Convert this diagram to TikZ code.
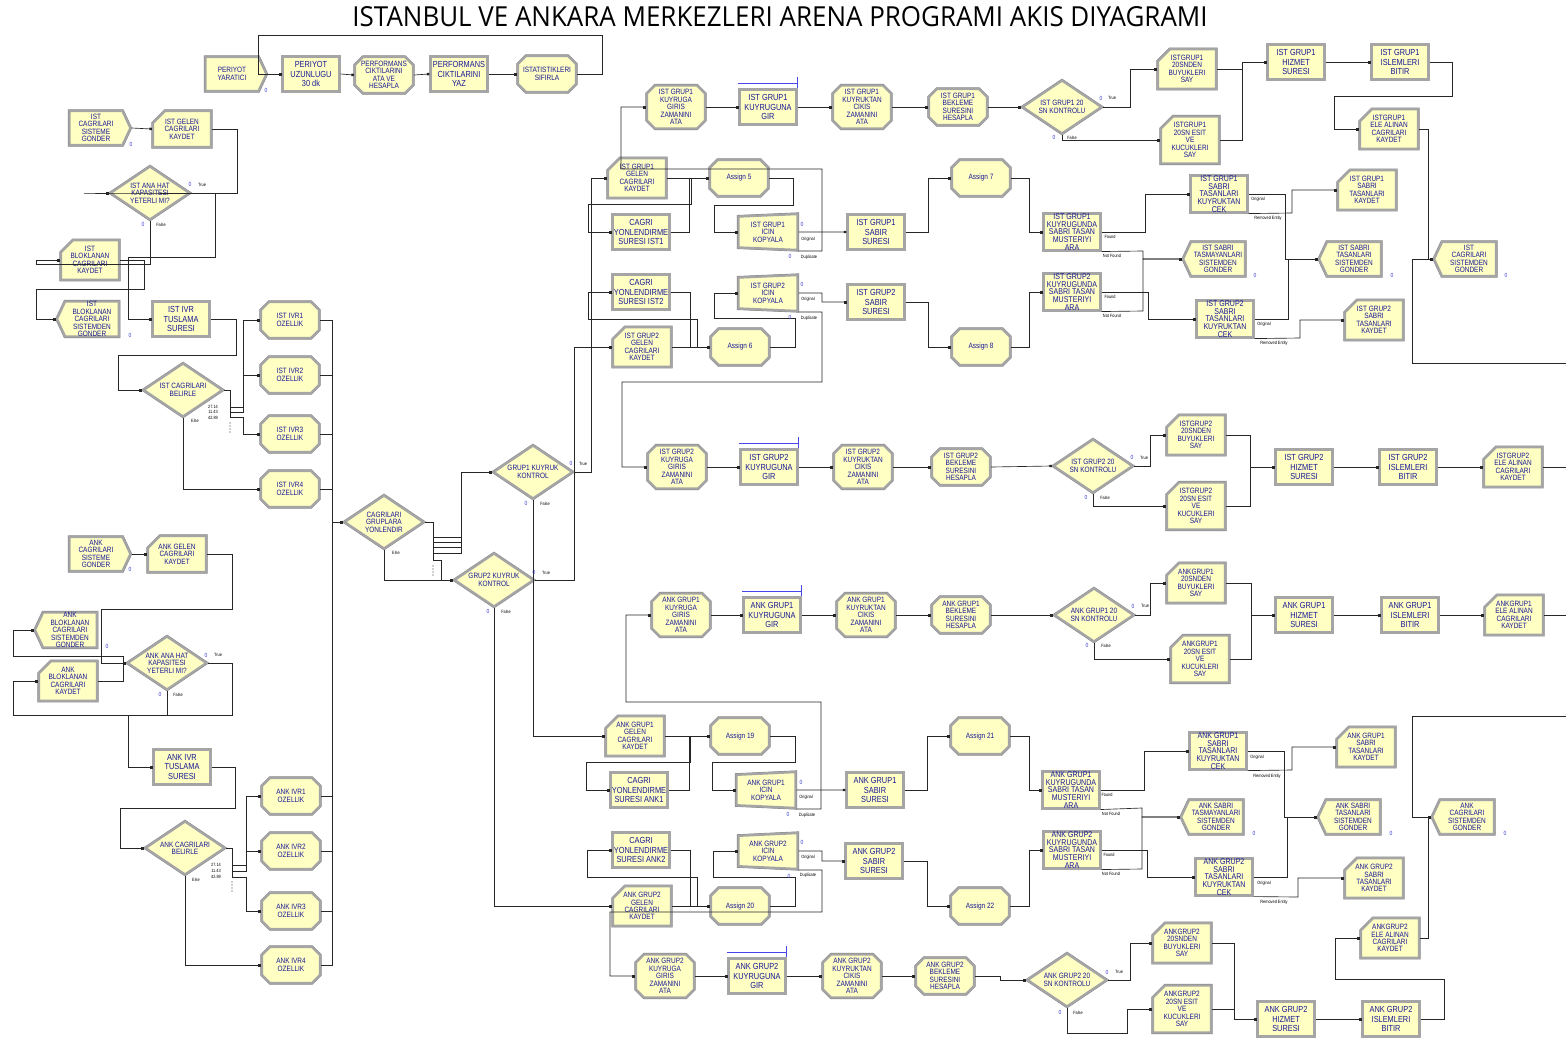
\documentclass[tikz,border=0pt]{standalone}
\usepackage{fontspec}
\usepackage{graphicx}
\usetikzlibrary{shapes.geometric,shapes.misc,shapes.symbols,arrows.meta}
\newfontfamily\arenafont[FakeStretch=0.84]{Liberation Sans}
\newfontfamily\titlefont{Open Sans}
\definecolor{arenafill}{RGB}{255,255,196}
\definecolor{arenaedge}{RGB}{165,165,165}
\definecolor{arenatext}{RGB}{25,25,150}
\definecolor{cntblue}{RGB}{60,60,210}
\definecolor{qblue}{RGB}{70,70,235}
\begin{document}
\begin{tikzpicture}[
   x=1pt,y=-1pt,
   box/.style={fill=arenafill,draw=arenaedge,line width=2.4pt,
     preaction={draw=black!50,line width=3.1pt},text=arenatext,align=center,inner sep=1pt},
   txs/.style={font=\arenafont\fontsize{7.7}{7.4}\selectfont},
   txb/.style={font=\arenafont\fontsize{8.8}{9.2}\selectfont},
   txm/.style={font=\arenafont\fontsize{8.4}{7.7}\selectfont},
   proc/.style={box,rectangle,minimum width=57pt,minimum height=35pt,txb},
   srch/.style={box,rectangle,minimum width=57pt,minimum height=35pt,inner ysep=0pt,txm},
   asgn/.style={box,chamfered rectangle,chamfered rectangle xsep=4pt,chamfered rectangle ysep=4pt,
     minimum width=58pt,minimum height=36pt,inner ysep=0pt,txs},
   rec/.style={box,chamfered rectangle,chamfered rectangle corners=north west,
     chamfered rectangle xsep=6pt,chamfered rectangle ysep=6pt,minimum width=58pt,minimum height=36pt,inner ysep=0pt,txs},
   crt/.style={box,signal,signal to=east,signal pointer angle=130,minimum width=61pt,minimum height=34pt,inner ysep=0pt,txs},
   disp/.style={box,signal,signal to=west,signal pointer angle=130,minimum width=62pt,minimum height=34pt,inner ysep=0pt,txs},
   dec/.style={box,diamond,aspect=1.5,minimum width=80pt,minimum height=54pt,inner sep=0pt,txs},
   sepr/.style={box,trapezium,trapezium left angle=86,trapezium right angle=86,shape border rotate=90,
     trapezium stretches body,minimum width=36pt,minimum height=59pt,inner ysep=0pt,txs},
   wire/.style={draw=black!85,line width=0.65pt},
   con/.style={wire,-{Square[length=2.4pt,width=2.4pt]}},
   qline/.style={draw=qblue,line width=0.8pt},
   cnt/.style={font=\arenafont\fontsize{6}{6}\selectfont,text=cntblue,inner sep=0pt},
   lab/.style={font=\arenafont\fontsize{4.6}{5}\selectfont,inner sep=0pt}
 ]
  \fill[white] (0,0) rectangle (1566,1039);
  \useasboundingbox (0,0) rectangle (1566,1039);

  \node (title) at (780,17) {\resizebox{855pt}{20pt}{\titlefont ISTANBUL VE ANKARA MERKEZLERI ARENA PROGRAMI AKIS DIYAGRAMI}};

  % periyot
  \node[crt] (perYar) at (232,74) {PERIYOT\\YARATICI};
  \node[proc] (perUzun) at (311,74) {PERIYOT\\UZUNLUGU\\30 dk};
  \node[asgn] (perAta) at (384,75) {PERFORMANS\\CIKTILARINI\\ATA VE\\HESAPLA};
  \node[proc] (perYaz) at (459,74) {PERFORMANS\\CIKTILARINI\\YAZ};
  \node[asgn] (statSif) at (547,74) {ISTATISTIKLERI\\SIFIRLA};

  % istanbul giris
  \node[crt] (istGonder) at (96,128) {IST\\CAGRILARI\\SISTEME\\GONDER};
  \node[rec] (istGelen) at (182,129) {IST GELEN\\CAGRILARI\\KAYDET};
  \node[dec] (istHat) at (150,193) {IST ANA HAT\\KAPASITESI\\YETERLI MI?};
  \node[rec] (istBlokKay) at (90,260) {IST\\BLOKLANAN\\CAGRILARI\\KAYDET};
  \node[disp] (istBlokGon) at (92,319) {IST\\BLOKLANAN\\CAGRILARI\\SISTEMDEN\\GONDER};
  \node[proc] (istTus) at (181,319) {IST IVR\\TUSLAMA\\SURESI};
  \node[dec] (istBel) at (183,390) {IST CAGRILARI\\BELIRLE};
  \node[asgn] (istIvr1) at (290,320) {IST IVR1\\OZELLIK};
  \node[asgn] (istIvr2) at (290,375) {IST IVR2\\OZELLIK};
  \node[asgn] (istIvr3) at (290,434) {IST IVR3\\OZELLIK};
  \node[asgn] (istIvr4) at (290,489) {IST IVR4\\OZELLIK};

  % ankara giris
  \node[crt] (ankGonder) at (96,554) {ANK\\CAGRILARI\\SISTEME\\GONDER};
  \node[rec] (ankGelen) at (177,554) {ANK GELEN\\CAGRILARI\\KAYDET};
  \node[disp] (ankBlokGon) at (70,630) {ANK\\BLOKLANAN\\CAGRILARI\\SISTEMDEN\\GONDER};
  \node[dec] (ankHat) at (167,663) {ANK ANA HAT\\KAPASITESI\\YETERLI MI?};
  \node[rec] (ankBlokKay) at (68,681) {ANK\\BLOKLANAN\\CAGRILARI\\KAYDET};
  \node[proc] (ankTus) at (182,767) {ANK IVR\\TUSLAMA\\SURESI};
  \node[dec] (ankBel) at (185,848) {ANK CAGRILARI\\BELIRLE};
  \node[asgn] (ankIvr1) at (291,796) {ANK IVR1\\OZELLIK};
  \node[asgn] (ankIvr2) at (291,851) {ANK IVR2\\OZELLIK};
  \node[asgn] (ankIvr3) at (291,911) {ANK IVR3\\OZELLIK};
  \node[asgn] (ankIvr4) at (291,965) {ANK IVR4\\OZELLIK};

  % yonlendirme
  \node[dec] (yonlendir) at (384,522) {CAGRILARI\\GRUPLARA\\YONLENDIR};
  \node[dec] (grup1Kon) at (533,472) {GRUP1 KUYRUK\\KONTROL};
  \node[dec] (grup2Kon) at (494,580) {GRUP2 KUYRUK\\KONTROL};

  % ist grup1 / grup2
  \node[rec] (ig1Gelen) at (637,178) {IST GRUP1\\GELEN\\CAGRILARI\\KAYDET};
  \node[asgn] (asg5) at (739,178) {Assign 5};
  \node[proc] (yon1) at (641,232) {CAGRI\\YONLENDIRME\\SURESI IST1};
  \node[sepr] (ig1Kop) at (768,232) {IST GRUP1\\ICIN\\KOPYALA};
  \node[proc] (ig1Sabir) at (876,232) {IST GRUP1\\SABIR\\SURESI};
  \node[asgn] (asg7) at (981,178) {Assign 7};
  \node[proc] (yon2) at (641,292) {CAGRI\\YONLENDIRME\\SURESI IST2};
  \node[sepr] (ig2Kop) at (768,293) {IST GRUP2\\ICIN\\KOPYALA};
  \node[proc] (ig2Sabir) at (876,302) {IST GRUP2\\SABIR\\SURESI};
  \node[rec] (ig2Gelen) at (642,347) {IST GRUP2\\GELEN\\CAGRILARI\\KAYDET};
  \node[asgn] (asg6) at (740,347) {Assign 6};
  \node[asgn] (asg8) at (981,347) {Assign 8};

  \node[asgn] (ig1Giris) at (676,107) {IST GRUP1\\KUYRUGA\\GIRIS\\ZAMANINI\\ATA};
  \node[proc] (ig1Gir) at (768,107) {IST GRUP1\\KUYRUGUNA\\GIR};
  \node[asgn] (ig1Cikis) at (862,107) {IST GRUP1\\KUYRUKTAN\\CIKIS\\ZAMANINI\\ATA};
  \node[asgn] (ig1Bekle) at (958,107) {IST GRUP1\\BEKLEME\\SURESINI\\HESAPLA};
  \node[dec] (ig1Kon) at (1062,107) {IST GRUP1 20\\SN KONTROLU};
  \node[rec] (ig1Buyuk) at (1187,69) {ISTGRUP1\\20SNDEN\\BUYUKLERI\\SAY};
  \node[rec] (ig1Esit) at (1190,140) {ISTGRUP1\\20SN ESIT\\VE\\KUCUKLERI\\SAY};
  \node[proc] (ig1Hizmet) at (1296,62) {IST GRUP1\\HIZMET\\SURESI};
  \node[proc] (ig1Bitir) at (1400,62) {IST GRUP1\\ISLEMLERI\\BITIR};
  \node[rec] (ig1Ele) at (1389,129) {ISTGRUP1\\ELE ALINAN\\CAGRILARI\\KAYDET};

  \node[srch] (ig1Ara) at (1072,232) {IST GRUP1\\KUYRUGUNDA\\SABRI TASAN\\MUSTERIYI\\ARA};
  \node[srch] (ig2Ara) at (1072,292) {IST GRUP2\\KUYRUGUNDA\\SABRI TASAN\\MUSTERIYI\\ARA};
  \node[srch] (ig1Cek) at (1219,194) {IST GRUP1\\SABRI\\TASANLARI\\KUYRUKTAN\\CEK};
  \node[srch] (ig2Cek) at (1225,319) {IST GRUP2\\SABRI\\TASANLARI\\KUYRUKTAN\\CEK};
  \node[disp] (istTasmayan) at (1218,259) {IST SABRI\\TASMAYANLARI\\SISTEMDEN\\GONDER};
  \node[disp] (istTasan) at (1354,259) {IST SABRI\\TASANLARI\\SISTEMDEN\\GONDER};
  \node[rec] (ig1TasKay) at (1367,190) {IST GRUP1\\SABRI\\TASANLARI\\KAYDET};
  \node[rec] (ig2TasKay) at (1374,320) {IST GRUP2\\SABRI\\TASANLARI\\KAYDET};
  \node[disp] (istCagGon) at (1469,259) {IST\\CAGRILARI\\SISTEMDEN\\GONDER};

  \node[asgn] (ig2Giris) at (677,467) {IST GRUP2\\KUYRUGA\\GIRIS\\ZAMANINI\\ATA};
  \node[proc] (ig2Gir) at (769,467) {IST GRUP2\\KUYRUGUNA\\GIR};
  \node[asgn] (ig2Cikis) at (863,467) {IST GRUP2\\KUYRUKTAN\\CIKIS\\ZAMANINI\\ATA};
  \node[asgn] (ig2Bekle) at (961,467) {IST GRUP2\\BEKLEME\\SURESINI\\HESAPLA};
  \node[dec] (ig2Kon) at (1093,466) {IST GRUP2 20\\SN KONTROLU};
  \node[rec] (ig2Buyuk) at (1196,435) {ISTGRUP2\\20SNDEN\\BUYUKLERI\\SAY};
  \node[rec] (ig2Esit) at (1196,506) {ISTGRUP2\\20SN ESIT\\VE\\KUCUKLERI\\SAY};
  \node[proc] (ig2Hizmet) at (1304,467) {IST GRUP2\\HIZMET\\SURESI};
  \node[proc] (ig2Bitir) at (1408,467) {IST GRUP2\\ISLEMLERI\\BITIR};
  \node[rec] (ig2Ele) at (1513,467) {ISTGRUP2\\ELE ALINAN\\CAGRILARI\\KAYDET};

  % ank grup1 / grup2
  \node[asgn] (ag1Giris) at (681,615) {ANK GRUP1\\KUYRUGA\\GIRIS\\ZAMANINI\\ATA};
  \node[proc] (ag1Gir) at (772,615) {ANK GRUP1\\KUYRUGUNA\\GIR};
  \node[asgn] (ag1Cikis) at (866,615) {ANK GRUP1\\KUYRUKTAN\\CIKIS\\ZAMANINI\\ATA};
  \node[asgn] (ag1Bekle) at (961,615) {ANK GRUP1\\BEKLEME\\SURESINI\\HESAPLA};
  \node[dec] (ag1Kon) at (1094,615) {ANK GRUP1 20\\SN KONTROLU};
  \node[rec] (ag1Buyuk) at (1196,583) {ANKGRUP1\\20SNDEN\\BUYUKLERI\\SAY};
  \node[rec] (ag1Esit) at (1200,659) {ANKGRUP1\\20SN ESIT\\VE\\KUCUKLERI\\SAY};
  \node[proc] (ag1Hizmet) at (1304,615) {ANK GRUP1\\HIZMET\\SURESI};
  \node[proc] (ag1Bitir) at (1410,615) {ANK GRUP1\\ISLEMLERI\\BITIR};
  \node[rec] (ag1Ele) at (1514,615) {ANKGRUP1\\ELE ALINAN\\CAGRILARI\\KAYDET};

  \node[rec] (ag1Gelen) at (635,736) {ANK GRUP1\\GELEN\\CAGRILARI\\KAYDET};
  \node[asgn] (asg19) at (740,736) {Assign 19};
  \node[proc] (ayon1) at (639,790) {CAGRI\\YONLENDIRME\\SURESI ANK1};
  \node[sepr] (ag1Kop) at (766,790) {ANK GRUP1\\ICIN\\KOPYALA};
  \node[proc] (ag1Sabir) at (875,790) {ANK GRUP1\\SABIR\\SURESI};
  \node[asgn] (asg21) at (980,736) {Assign 21};
  \node[proc] (ayon2) at (641,850) {CAGRI\\YONLENDIRME\\SURESI ANK2};
  \node[sepr] (ag2Kop) at (768,851) {ANK GRUP2\\ICIN\\KOPYALA};
  \node[proc] (ag2Sabir) at (874,861) {ANK GRUP2\\SABIR\\SURESI};
  \node[rec] (ag2Gelen) at (642,906) {ANK GRUP2\\GELEN\\CAGRILARI\\KAYDET};
  \node[asgn] (asg20) at (740,906) {Assign 20};
  \node[asgn] (asg22) at (980,906) {Assign 22};

  \node[srch] (ag1Ara) at (1071,790) {ANK GRUP1\\KUYRUGUNDA\\SABRI TASAN\\MUSTERIYI\\ARA};
  \node[srch] (ag2Ara) at (1072,850) {ANK GRUP2\\KUYRUGUNDA\\SABRI TASAN\\MUSTERIYI\\ARA};
  \node[srch] (ag1Cek) at (1218,751) {ANK GRUP1\\SABRI\\TASANLARI\\KUYRUKTAN\\CEK};
  \node[srch] (ag2Cek) at (1224,877) {ANK GRUP2\\SABRI\\TASANLARI\\KUYRUKTAN\\CEK};
  \node[disp] (ankTasmayan) at (1216,817) {ANK SABRI\\TASMAYANLARI\\SISTEMDEN\\GONDER};
  \node[disp] (ankTasan) at (1353,817) {ANK SABRI\\TASANLARI\\SISTEMDEN\\GONDER};
  \node[rec] (ag1TasKay) at (1366,747) {ANK GRUP1\\SABRI\\TASANLARI\\KAYDET};
  \node[rec] (ag2TasKay) at (1374,878) {ANK GRUP2\\SABRI\\TASANLARI\\KAYDET};
  \node[disp] (ankCagGon) at (1467,817) {ANK\\CAGRILARI\\SISTEMDEN\\GONDER};

  \node[asgn] (ag2Giris) at (665,976) {ANK GRUP2\\KUYRUGA\\GIRIS\\ZAMANINI\\ATA};
  \node[proc] (ag2Gir) at (757,976) {ANK GRUP2\\KUYRUGUNA\\GIR};
  \node[asgn] (ag2Cikis) at (852,976) {ANK GRUP2\\KUYRUKTAN\\CIKIS\\ZAMANINI\\ATA};
  \node[asgn] (ag2Bekle) at (945,976) {ANK GRUP2\\BEKLEME\\SURESINI\\HESAPLA};
  \node[dec] (ag2Kon) at (1067,980) {ANK GRUP2 20\\SN KONTROLU};
  \node[rec] (ag2Buyuk) at (1182,943) {ANKGRUP2\\20SNDEN\\BUYUKLERI\\SAY};
  \node[rec] (ag2Esit) at (1182,1009) {ANKGRUP2\\20SN ESIT\\VE\\KUCUKLERI\\SAY};
  \node[proc] (ag2Hizmet) at (1286,1019) {ANK GRUP2\\HIZMET\\SURESI};
  \node[proc] (ag2Bitir) at (1391,1019) {ANK GRUP2\\ISLEMLERI\\BITIR};
  \node[rec] (ag2Ele) at (1390,938) {ANKGRUP2\\ELE ALINAN\\CAGRILARI\\KAYDET};

  % kuyruk cizgileri
  \draw[qline] ([yshift=5pt]ig1Gir.north west) -- ([yshift=5pt]ig1Gir.north east) ([yshift=11pt]ig1Gir.north east) -- (ig1Gir.north east);
  \draw[qline] ([yshift=5pt]ig2Gir.north west) -- ([yshift=5pt]ig2Gir.north east) ([yshift=11pt]ig2Gir.north east) -- (ig2Gir.north east);
  \draw[qline] ([yshift=5pt]ag1Gir.north west) -- ([yshift=5pt]ag1Gir.north east) ([yshift=11pt]ag1Gir.north east) -- (ag1Gir.north east);
  \draw[qline] ([yshift=5pt]ag2Gir.north west) -- ([yshift=5pt]ag2Gir.north east) ([yshift=11pt]ag2Gir.north east) -- (ag2Gir.north east);

  % baglantilar - periyot
  \draw[con] (perYar.east) -- (perUzun.west);
  \draw[con] (perUzun.east) -- (perAta.west);
  \draw[con] (perAta.east) -- (perYaz.west);
  \draw[con] (perYaz.east) -- (statSif.west);
  \draw[con] (statSif.east) -- (602,74) -- (602,35) -- (258,35) -- (258,74) -- (perUzun.west);

  % baglantilar - ist giris
  \draw[con] (istGonder.east) -- (istGelen.west);
  \draw[con] (istGelen.east) -- (237,129) -- (237,193) -- (84,193) -- (istHat.west);
  \draw[con] (istHat.east) -- (215,193) -- (215,257) -- (128,257) |- (istTus.west);
  \draw[con] (istHat.south) -- (150,264) -- (36,264) |- (istBlokKay.west);
  \draw[con] (istBlokKay.east) -- (144,260) -- (144,289) -- (36,289) |- (istBlokGon.west);
  \draw[con] (istTus.east) -- (236,319) -- (236,355) -- (118,355) |- (istBel.west);
  \draw[wire] (istBel.east) -- (230,390) -- (230,418);
  \coordinate (istEx1) at (230,407);
  \coordinate (istEx2) at (230,412);
  \coordinate (istEx3) at (230,417);
  \draw[con] (istEx1) -- (243,407) |- (istIvr1.west);
  \draw[con] (istEx2) -- (243,412) |- (istIvr2.west);
  \draw[con] (istEx3) -- (243,417) |- (istIvr3.west);
  \draw[con] (istBel.south) |- (istIvr4.west);
  \fill[black!80] (230,423) circle (0.7pt) (230,426) circle (0.7pt) (230,429) circle (0.7pt) (230,432) circle (0.7pt);

  % baglantilar - ank giris
  \draw[con] (ankGonder.east) -- (ankGelen.west);
  \draw[con] (ankGelen.east) -- (232,554) -- (232,609) -- (101,609) |- (ankHat.west);
  \draw[con] (ankHat.east) -- (232,663) -- (232,715) -- (128,715) |- (ankTus.west);
  \draw[con] (ankHat.south) -- (167,715) -- (13,715) |- (ankBlokKay.west);
  \draw[con] (ankBlokKay.east) -- (123,681) -- (123,656) -- (13,656) |- (ankBlokGon.west);
  \draw[con] (ankTus.east) -- (235,767) -- (235,808) -- (120,808) |- (ankBel.west);
  \draw[wire] (ankBel.east) -- (232,848) -- (232,877);
  \coordinate (ankEx1) at (232,865);
  \coordinate (ankEx2) at (232,871);
  \coordinate (ankEx3) at (232,877);
  \draw[con] (ankEx1) -- (246,865) |- (ankIvr1.west);
  \draw[con] (ankEx2) -- (246,871) |- (ankIvr2.west);
  \draw[con] (ankEx3) -- (246,877) |- (ankIvr3.west);
  \draw[con] (ankBel.south) |- (ankIvr4.west);
  \fill[black!80] (232,882) circle (0.7pt) (232,885) circle (0.7pt) (232,888) circle (0.7pt) (232,891) circle (0.7pt);

  % ivr -> yonlendir
  \draw[con] (istIvr1.east) -| (332,522) -- (yonlendir.west);
  \draw[con] (istIvr2.east) -| (332,522) -- (yonlendir.west);
  \draw[con] (istIvr3.east) -| (332,522) -- (yonlendir.west);
  \draw[con] (istIvr4.east) -| (332,522) -- (yonlendir.west);
  \draw[con] (ankIvr1.east) -| (332,522) -- (yonlendir.west);
  \draw[con] (ankIvr2.east) -| (332,522) -- (yonlendir.west);
  \draw[con] (ankIvr3.east) -| (332,522) -- (yonlendir.west);
  \draw[con] (ankIvr4.east) -| (332,522) -- (yonlendir.west);

  \draw[wire] (yonlendir.east) -- (433,522) -- (433,561);
  \coordinate (yEx1) at (433,537);
  \coordinate (yEx2) at (433,542);
  \coordinate (yEx3) at (433,547);
  \coordinate (yEx4) at (433,553);
  \coordinate (yEx5) at (433,560);
  \draw[con] (yEx1) -- (461,537) |- (grup1Kon.west);
  \draw[con] (yEx2) -- (461,542) |- (grup1Kon.west);
  \draw[con] (yEx3) -- (461,547) |- (grup1Kon.west);
  \draw[con] (yEx4) -- (461,553) |- (grup1Kon.west);
  \draw[con] (yEx5) -- (441,560) |- (grup2Kon.west);
  \draw[con] (yonlendir.south) |- (grup2Kon.west);
  \fill[black!80] (433,566) circle (0.7pt) (433,569) circle (0.7pt) (433,572) circle (0.7pt) (433,575) circle (0.7pt);

  \draw[con] (grup1Kon.east) -- (591,472) |- (ig1Gelen.west);
  \draw[con] (grup2Kon.east) -- (574,580) |- (ig2Gelen.west);
  \draw[con] (grup1Kon.south) |- (ag1Gelen.west);
  \draw[con] (grup2Kon.south) |- (ag2Gelen.west);

  % ist grup1 / grup2
  \draw[con] (ig1Gelen.east) -- (691,178) -- (691,204) -- (588,204) |- (yon1.west);
  \draw[con] (yon1.east) -- (689,232) |- (asg5.west);
  \draw[con] (asg5.east) -- (793,178) -- (793,205) -- (714,205) |- (ig1Kop.west);
  \draw[con] (ig1Kop.east) -- (ig1Sabir.west);
  \draw[con] ([yshift=-19pt]ig1Kop.east) -- (822,251) -- (822,169) -- (621,169) |- (ig1Giris.west);
  \draw[con] (ig1Sabir.east) -- (928,232) |- (asg7.west);
  \draw[con] (asg7.east) -- (1029,178) |- (ig1Ara.west);
  \draw[con] (ig2Gelen.east) -- (697,347) -- (697,319) -- (588,319) |- (yon2.west);
  \draw[con] (yon2.east) -- (690,292) |- (asg6.west);
  \draw[con] (asg6.east) -- (795,347) -- (795,318) -- (714,318) |- (ig2Kop.west);
  \draw[con] (ig2Kop.east) -- (822,293) |- (ig2Sabir.west);
  \draw[con] ([yshift=-19pt]ig2Kop.east) -- (822,312) -- (822,382) -- (622,382) |- (ig2Giris.west);
  \draw[con] (ig2Sabir.east) -- (928,302) |- (asg8.west);
  \draw[con] (asg8.east) -- (1029,347) |- (ig2Ara.west);

  \draw[con] (ig1Giris.east) -- (ig1Gir.west);
  \draw[con] (ig1Gir.east) -- (ig1Cikis.west);
  \draw[con] (ig1Cikis.east) -- (ig1Bekle.west);
  \draw[con] (ig1Bekle.east) -- (ig1Kon.west);
  \draw[con] (ig1Kon.east) -- (1130,107) |- (ig1Buyuk.west);
  \draw[con] (ig1Kon.south) |- (ig1Esit.west);
  \draw[con] (ig1Buyuk.east) -| (1242,62) -- (ig1Hizmet.west);
  \draw[con] (ig1Esit.east) -| (1242,62) -- (ig1Hizmet.west);
  \draw[con] (ig1Hizmet.east) -- (ig1Bitir.west);
  \draw[con] (ig1Bitir.east) -- (1452,62) -- (1452,96) -- (1334,96) |- (ig1Ele.west);
  \draw[con] (ig1Ele.east) -- (1428,129) |- (istCagGon.west);

  \draw[con] (ig1Ara.east) -- (1145,232) |- (ig1Cek.west);
  \draw[con] (ig1Ara.south east) -- (1143,251) |- (istTasmayan.west);
  \draw[con] (ig2Ara.east) -- (1148,292) |- (ig2Cek.west);
  \draw[con] (ig2Ara.south east) -- (1143,311) |- (istTasmayan.west);
  \draw[con] (ig1Cek.east) -- (1285,194) |- (istTasan.west);
  \draw[con] (ig1Cek.south east) -- (1292,213) |- (ig1TasKay.west);
  \draw[con] (ig2Cek.east) -- (1288,319) |- (istTasan.west);
  \draw[con] (ig2Cek.south east) -- (1300,338) |- (ig2TasKay.west);

  \draw[con] (ig2Giris.east) -- (ig2Gir.west);
  \draw[con] (ig2Gir.east) -- (ig2Cikis.west);
  \draw[con] (ig2Cikis.east) -- (ig2Bekle.west);
  \draw[con] (ig2Bekle.east) -- (ig2Kon.west);
  \draw[con] (ig2Kon.east) -- (1150,466) |- (ig2Buyuk.west);
  \draw[con] (ig2Kon.south) |- (ig2Esit.west);
  \draw[con] (ig2Buyuk.east) -| (1250,467) -- (ig2Hizmet.west);
  \draw[con] (ig2Esit.east) -| (1250,467) -- (ig2Hizmet.west);
  \draw[con] (ig2Hizmet.east) -- (ig2Bitir.west);
  \draw[con] (ig2Bitir.east) -- (ig2Ele.west);
  \coordinate (istOut) at (1566,467);
  \coordinate (istIn) at (1566,363);
  \draw[wire] (ig2Ele.east) -- (istOut);
  \draw[con] (istIn) -- (1412,363) |- (istCagGon.west);

  % ank grup1 / grup2
  \draw[con] (ag1Giris.east) -- (ag1Gir.west);
  \draw[con] (ag1Gir.east) -- (ag1Cikis.west);
  \draw[con] (ag1Cikis.east) -- (ag1Bekle.west);
  \draw[con] (ag1Bekle.east) -- (ag1Kon.west);
  \draw[con] (ag1Kon.east) -- (1150,615) |- (ag1Buyuk.west);
  \draw[con] (ag1Kon.south) |- (ag1Esit.west);
  \draw[con] (ag1Buyuk.east) -| (1251,615) -- (ag1Hizmet.west);
  \draw[con] (ag1Esit.east) -| (1251,615) -- (ag1Hizmet.west);
  \draw[con] (ag1Hizmet.east) -- (ag1Bitir.west);
  \draw[con] (ag1Bitir.east) -- (ag1Ele.west);
  \coordinate (ankOut) at (1566,615);
  \coordinate (ankIn) at (1566,716);
  \draw[wire] (ag1Ele.east) -- (ankOut);
  \draw[con] (ankIn) -- (1412,716) |- (ankCagGon.west);

  \draw[con] (ag1Gelen.east) -- (690,736) -- (690,762) -- (586,762) |- (ayon1.west);
  \draw[con] (ayon1.east) -- (689,790) |- (asg19.west);
  \draw[con] (asg19.east) -- (795,736) -- (795,762) -- (712,762) |- (ag1Kop.west);
  \draw[con] (ag1Kop.east) -- (ag1Sabir.west);
  \draw[con] ([yshift=-19pt]ag1Kop.east) -- (821,809) -- (821,702) -- (626,702) |- (ag1Giris.west);
  \draw[con] (ag1Sabir.east) -- (927,790) |- (asg21.west);
  \draw[con] (asg21.east) -- (1029,736) |- (ag1Ara.west);
  \draw[con] (ag2Gelen.east) -- (697,906) -- (697,877) -- (587,877) |- (ayon2.west);
  \draw[con] (ayon2.east) -- (690,850) |- (asg20.west);
  \draw[con] (asg20.east) -- (795,906) -- (795,877) -- (713,877) |- (ag2Kop.west);
  \draw[con] (ag2Kop.east) -- (822,851) |- (ag2Sabir.west);
  \draw[con] ([yshift=-19pt]ag2Kop.east) -- (822,870) -- (822,912) -- (610,912) |- (ag2Giris.west);
  \draw[con] (ag2Sabir.east) -- (927,861) |- (asg22.west);
  \draw[con] (asg22.east) -- (1029,906) |- (ag2Ara.west);

  \draw[con] (ag1Ara.east) -- (1144,790) |- (ag1Cek.west);
  \draw[con] (ag1Ara.south east) -- (1142,808) |- (ankTasmayan.west);
  \draw[con] (ag2Ara.east) -- (1147,850) |- (ag2Cek.west);
  \draw[con] (ag2Ara.south east) -- (1142,869) |- (ankTasmayan.west);
  \draw[con] (ag1Cek.east) -- (1284,751) |- (ankTasan.west);
  \draw[con] (ag1Cek.south east) -- (1292,770) |- (ag1TasKay.west);
  \draw[con] (ag2Cek.east) -- (1287,877) |- (ankTasan.west);
  \draw[con] (ag2Cek.south east) -- (1298,897) |- (ag2TasKay.west);

  \draw[con] (ag2Giris.east) -- (ag2Gir.west);
  \draw[con] (ag2Gir.east) -- (ag2Cikis.west);
  \draw[con] (ag2Cikis.east) -- (ag2Bekle.west);
  \draw[con] (ag2Bekle.east) -- (1000,976) |- (ag2Kon.west);
  \draw[con] (ag2Kon.east) -- (1130,980) |- (ag2Buyuk.west);
  \draw[con] (ag2Kon.south) -- (1067,1033) -- (1127,1033) |- (ag2Esit.west);
  \draw[con] (ag2Buyuk.east) -| (1234,1019) -- (ag2Hizmet.west);
  \draw[con] (ag2Esit.east) -| (1234,1019) -- (ag2Hizmet.west);
  \draw[con] (ag2Hizmet.east) -- (ag2Bitir.west);
  \draw[con] (ag2Bitir.east) -- (1444,1019) -- (1444,979) -- (1335,979) |- (ag2Ele.west);
  \draw[con] (ag2Ele.east) -- (1428,938) |- (ankCagGon.west);

  % sayaclar
  \node[cnt] (c1) at (266,90) {0};
  \node[cnt] (c2) at (131,144) {0};
  \node[cnt] (c3) at (190,184) {0};
  \node[cnt] (c4) at (143,224) {0};
  \node[cnt] (c5) at (130,335) {0};
  \node[cnt] (c6) at (130,569) {0};
  \node[cnt] (c7) at (107,646) {0};
  \node[cnt] (c8) at (206,655) {0};
  \node[cnt] (c9) at (160,694) {0};
  \node[cnt] (c10) at (571,463) {0};
  \node[cnt] (c11) at (526,503) {0};
  \node[cnt] (c12) at (534,572) {0};
  \node[cnt] (c13) at (488,611) {0};
  \node[cnt] (c14) at (802,224) {0};
  \node[cnt] (c15) at (790,256) {0};
  \node[cnt] (c16) at (802,284) {0};
  \node[cnt] (c17) at (790,317) {0};
  \node[cnt] (c18) at (801,782) {0};
  \node[cnt] (c19) at (788,814) {0};
  \node[cnt] (c20) at (802,842) {0};
  \node[cnt] (c21) at (789,876) {0};
  \node[cnt] (c22) at (1101,98) {0};
  \node[cnt] (c23) at (1054,137) {0};
  \node[cnt] (c24) at (1132,457) {0};
  \node[cnt] (c25) at (1086,497) {0};
  \node[cnt] (c26) at (1133,606) {0};
  \node[cnt] (c27) at (1087,645) {0};
  \node[cnt] (c28) at (1107,972) {0};
  \node[cnt] (c29) at (1060,1012) {0};
  \node[cnt] (c30) at (1255,275) {0};
  \node[cnt] (c31) at (1392,275) {0};
  \node[cnt] (c32) at (1506,275) {0};
  \node[cnt] (c33) at (1254,833) {0};
  \node[cnt] (c34) at (1391,833) {0};
  \node[cnt] (c35) at (1505,833) {0};

  % etiketler
  \node[lab] (l1) at (202,185) {True};
  \node[lab] (l2) at (161,225) {False};
  \node[lab] (l3) at (218,655) {True};
  \node[lab] (l4) at (178,695) {False};
  \node[lab] (l5) at (583,464) {True};
  \node[lab] (l6) at (545,504) {False};
  \node[lab] (l7) at (546,573) {True};
  \node[lab] (l8) at (506,612) {False};
  \node[lab] (l9) at (1112,98) {True};
  \node[lab] (l10) at (1072,138) {False};
  \node[lab] (l11) at (1144,458) {True};
  \node[lab] (l12) at (1105,498) {False};
  \node[lab] (l13) at (1145,606) {True};
  \node[lab] (l14) at (1106,646) {False};
  \node[lab] (l15) at (1119,972) {True};
  \node[lab] (l16) at (1078,1013) {False};
  \node[lab] (l17) at (195,421) {Else};
  \node[lab] (l18) at (196,880) {Else};
  \node[lab] (l19) at (396,553) {Else};
  \node[lab] (l20) at (213,407) {27.14};
  \node[lab] (l21) at (213,412) {11.43};
  \node[lab] (l22) at (213,418) {42.89};
  \node[lab] (l23) at (216,865) {27.14};
  \node[lab] (l24) at (216,871) {11.43};
  \node[lab] (l25) at (216,877) {42.89};
  \node[lab] (l26) at (808,239) {Original};
  \node[lab] (l27) at (809,257) {Duplicate};
  \node[lab] (l28) at (808,299) {Original};
  \node[lab] (l29) at (809,318) {Duplicate};
  \node[lab] (l30) at (806,797) {Original};
  \node[lab] (l31) at (807,815) {Duplicate};
  \node[lab] (l32) at (808,857) {Original};
  \node[lab] (l33) at (808,875) {Duplicate};
  \node[lab] (l34) at (1110,237) {Found};
  \node[lab] (l35) at (1112,256) {Not Found};
  \node[lab] (l36) at (1110,297) {Found};
  \node[lab] (l37) at (1112,316) {Not Found};
  \node[lab] (l38) at (1107,795) {Found};
  \node[lab] (l39) at (1111,814) {Not Found};
  \node[lab] (l40) at (1109,855) {Found};
  \node[lab] (l41) at (1111,874) {Not Found};
  \node[lab] (l42) at (1258,199) {Original};
  \node[lab] (l43) at (1268,218) {Removed Entity};
  \node[lab] (l44) at (1264,324) {Original};
  \node[lab] (l45) at (1274,343) {Removed Entity};
  \node[lab] (l46) at (1257,757) {Original};
  \node[lab] (l47) at (1267,776) {Removed Entity};
  \node[lab] (l48) at (1264,883) {Original};
  \node[lab] (l49) at (1274,902) {Removed Entity};
\end{tikzpicture}
\end{document}
